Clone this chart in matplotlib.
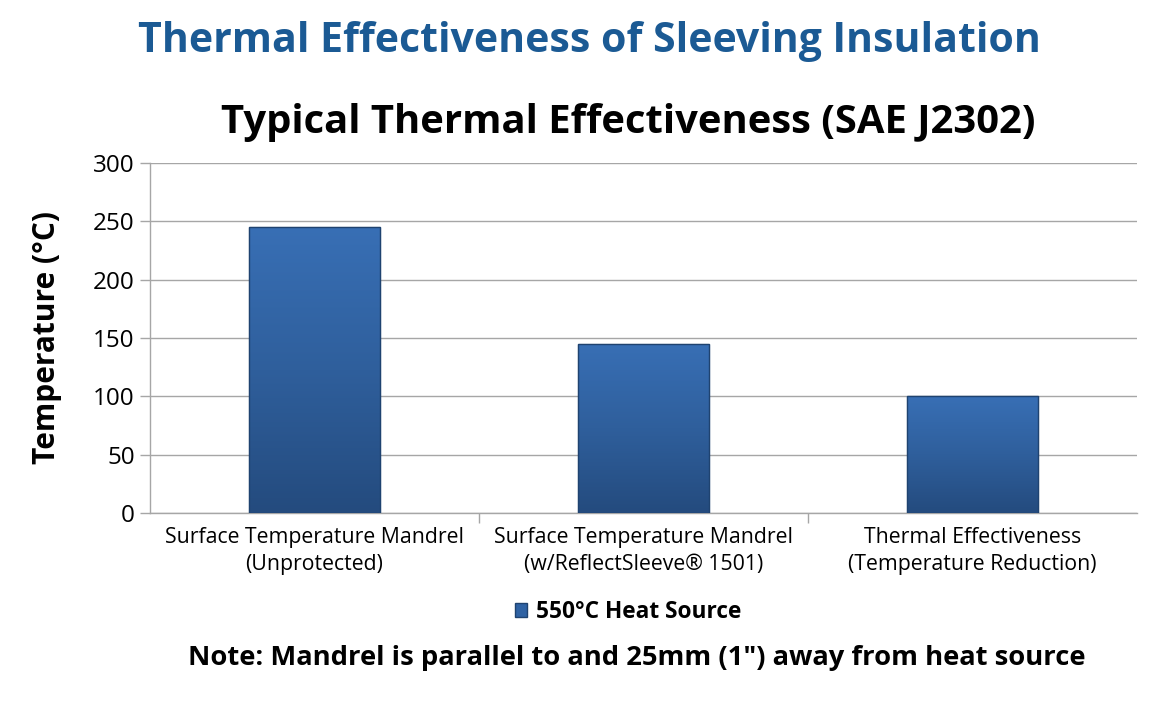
import matplotlib
matplotlib.use("Agg")
import matplotlib.pyplot as plt
import numpy as np
from matplotlib.patches import Patch
from matplotlib.colors import LinearSegmentedColormap

categories = ["Surface Temperature Mandrel\n(Unprotected)",
              "Surface Temperature Mandrel\n(w/ReflectSleeve\u00ae 1501)",
              "Thermal Effectiveness\n(Temperature Reduction)"]
values = [245, 145, 100]
series_name = "550\u00b0C Heat Source"
yticks = [0, 50, 100, 150, 200, 250, 300]

plt.rcParams['font.family'] = ['Open Sans', 'DejaVu Sans']

fig = plt.figure(figsize=(11.66, 7.02), dpi=100)
ax = fig.add_axes([150/1166, 1-513/702, (1137-150)/1166, (513-163)/702])

x = np.arange(len(categories))
bars = ax.bar(x, values, width=0.4, color='#2f62a3', edgecolor='#1f4370', linewidth=0.8, zorder=3)

grad = np.linspace(0, 1, 256).reshape(-1, 1)
cmap = LinearSegmentedColormap.from_list('b', ['#244b7e', '#2f5f9c', '#386fb5'])
for b in bars:
    x0, w, h = b.get_x(), b.get_width(), b.get_height()
    im = ax.imshow(grad, extent=[x0, x0 + w, 0, h], origin='lower', cmap=cmap,
                   aspect='auto', zorder=4)
    im.set_clip_path(b)
    ax.bar(b.get_x() + w/2, h, width=w, fill=False, edgecolor='#1f4370', linewidth=1.0, zorder=5)

ax.set_xlim(-0.5, 2.5)
ax.set_ylim(0, 300)
ax.set_yticks(yticks)
ax.set_yticklabels([str(t) for t in yticks], fontsize=17.5)
ax.yaxis.grid(True, color='#a6a6a6', linewidth=1.0, zorder=0)
ax.set_axisbelow(True)
ax.set_xticks(x)
ax.set_xticklabels(categories, fontsize=15.3, linespacing=1.4)
ax.tick_params(axis='x', length=0, pad=10)
ax.set_xticks([0.5, 1.5], minor=True)
ax.tick_params(axis='x', which='minor', length=7, color='#a6a6a6', width=1)
ax.tick_params(axis='y', length=7, color='#a6a6a6', width=1, pad=4)
for s in ['top', 'right']:
    ax.spines[s].set_visible(False)
for s in ['left', 'bottom']:
    ax.spines[s].set_color('#a6a6a6')
    ax.spines[s].set_linewidth(1.0)

ax.set_ylabel("Temperature (\u00b0C)", fontsize=21.5, fontweight='bold')
ax.yaxis.set_label_coords(-0.089, 0.5)

fig.text(589/1166, 1-41/702, "Thermal Effectiveness of Sleeving Insulation", ha='center', va='center',
         fontsize=29.5, fontweight='bold', color='#1b5a94')
fig.text(628/1166, 1-122/702, "Typical Thermal Effectiveness (SAE J2302)", ha='center', va='center',
         fontsize=28.8, fontweight='bold', color='black')

handle = Patch(facecolor='#2f62a3', edgecolor='#1f4370', label=series_name)
fig.legend(handles=[handle], loc='center', bbox_to_anchor=(628/1166, 1-612/702), frameon=False,
           prop={'size': 16.3, 'weight': 'bold'}, handlelength=0.55, handleheight=0.55, handletextpad=0.4)

fig.text(637/1166, 1-658/702, "Note: Mandrel is parallel to and 25mm (1\") away from heat source",
         ha='center', va='center', fontsize=19.7, fontweight='bold', color='black')

fig.savefig("out.png", dpi=100)
